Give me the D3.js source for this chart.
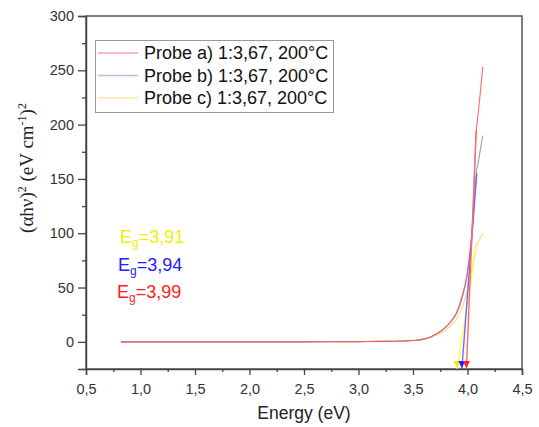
<!DOCTYPE html>
<html lang="en">
<head>
  <meta charset="utf-8">
  <title>Tauc plot</title>
  <script src="https://cdn.jsdelivr.net/npm/d3@7"></script>
  <style>
    body { margin: 0; background: #fff; }
    text { font-family: "Liberation Sans", Arial, sans-serif; }
  </style>
</head>
<body>
<svg id="chart"></svg>
<script>
// data
var energy = [0.82, 1.5, 2.0, 2.5, 3.0, 3.2, 3.4, 3.5, 3.6, 3.65, 3.7, 3.75, 3.8, 3.85, 3.9, 3.95, 4.0, 4.05, 4.08, 4.1, 4.12, 4.14];
var probeA = [0, 0, 0, 0, 0.2, 0.4, 0.8, 1.2, 2.5, 4, 6.5, 9.5, 13.5, 19, 27, 42, 65, 118, 193, 212, 232, 253];
var probeB = [0, 0, 0, 0, 0.2, 0.4, 0.8, 1.2, 2.5, 4, 6.5, 9.5, 13.5, 19, 26, 40, 63, 112, 155, 166, 178, 190];
var probeC = [0, 0, 0, 0, 0.2, 0.4, 0.8, 1.2, 2.3, 3.5, 5.5, 8, 11, 15, 21, 31, 49, 72, 88, 92, 96, 100];
var seriesNames = ["Probe a) 1:3,67, 200°C", "Probe b) 1:3,67, 200°C", "Probe c) 1:3,67, 200°C"];
var egLabels = ["3,99", "3,94", "3,91"];
// tangents: [energy, value] at both ends
var tangentA = [[3.99, -25], [4.08, 195]];
var tangentB = [[3.948, -25], [4.085, 155]];
var tangentC = [[3.905, -25], [4.08, 88]];
var xTicks = [0.5, 1.0, 1.5, 2.0, 2.5, 3.0, 3.5, 4.0, 4.5];
var yTicks = [0, 50, 100, 150, 200, 250, 300];

var w = 539, h = 427;
var margin = {top: 16, right: 17, bottom: 58, left: 86};

var svg = d3.select("#chart").attr("width", w).attr("height", h);

var x = d3.scaleLinear().domain([0.5, 4.5]).range([margin.left, w - margin.right]);
var y = d3.scaleLinear().domain([-25, 300]).range([h - margin.bottom, margin.top]);

var fmt = function(d) { return d3.format(".1f")(d).replace(".", ","); };

// minor ticks
svg.append("g")
  .attr("transform", "translate(0," + (h - margin.bottom) + ")")
  .call(d3.axisBottom(x).tickValues(d3.range(0.75, 4.5, 0.5)).tickSize(3).tickFormat(""))
  .call(function(g) { g.select(".domain").remove(); g.selectAll("line").attr("stroke", "#444").attr("stroke-width", 1.3); });
svg.append("g")
  .attr("transform", "translate(" + margin.left + ",0)")
  .call(d3.axisLeft(y).tickValues(d3.range(-25, 300, 50)).tickSize(4).tickFormat(""))
  .call(function(g) { g.select(".domain").remove(); g.selectAll("line").attr("stroke", "#444").attr("stroke-width", 1.3); });

// box
svg.append("rect")
  .attr("x", margin.left).attr("y", margin.top)
  .attr("width", w - margin.left - margin.right)
  .attr("height", h - margin.top - margin.bottom)
  .attr("fill", "none").attr("stroke", "#555").attr("stroke-width", 1.5);

// major axes
var xAxis = svg.append("g")
  .attr("transform", "translate(0," + (h - margin.bottom) + ")")
  .call(d3.axisBottom(x).tickValues(xTicks).tickSize(6).tickPadding(9).tickFormat(fmt));
var yAxis = svg.append("g")
  .attr("transform", "translate(" + margin.left + ",0)")
  .call(d3.axisLeft(y).tickValues(yTicks).tickSize(8).tickPadding(4));
[xAxis, yAxis].forEach(function(g) {
  g.select(".domain").attr("stroke", "#444").attr("stroke-width", 1.5);
  g.selectAll("line").attr("stroke", "#444").attr("stroke-width", 1.3);
  g.selectAll("text").attr("fill", "#333").style("font-size", "14.5px")
    .style("font-family", "'Liberation Sans', Arial, sans-serif");
});

// axis titles
svg.append("text")
  .attr("x", (margin.left + w - margin.right) / 2).attr("y", 419)
  .attr("text-anchor", "middle").attr("fill", "#222")
  .style("font-size", "17.5px").text("Energy (eV)");

var yt = svg.append("text")
  .attr("transform", "translate(33,168) rotate(-90)")
  .attr("text-anchor", "middle").attr("fill", "#222")
  .style("font-family", "'Liberation Serif', 'Times New Roman', serif")
  .style("font-size", "19px");
yt.append("tspan").text("(αhν)");
yt.append("tspan").attr("dy", -7).style("font-size", "12px").text("2");
yt.append("tspan").attr("dy", 7).text(" (eV cm");
yt.append("tspan").attr("dy", -7).style("font-size", "12px").text("-1");
yt.append("tspan").attr("dy", 7).text(")");
yt.append("tspan").attr("dy", -7).style("font-size", "12px").text("2");

// curves
var curveColors = ["#ff5050", "#7090c0", "#ffd060"];
var line = d3.line()
  .x(function(d) { return x(d[0]); })
  .y(function(d) { return y(d[1]); })
  .curve(d3.curveMonotoneX);
[probeC, probeB, probeA].forEach(function(vals, k) {
  var i = 2 - k;
  svg.append("path")
    .datum(energy.map(function(e, j) { return [e, vals[j]]; }))
    .attr("fill", "none")
    .attr("stroke", curveColors[i])
    .attr("stroke-opacity", 0.85)
    .attr("stroke-width", 1.1)
    .attr("d", line);
});

// tangents with arrows
var tanColors = ["#ff6a6a", "#6a6aff", "#ffff40"];
var tangents = [tangentA, tangentB, tangentC];
var straight = d3.line().x(function(d) { return x(d[0]); }).y(function(d) { return y(d[1]); });
[2, 1, 0].forEach(function(i) {
  var t = tangents[i];
  svg.append("path")
    .attr("d", straight(t))
    .attr("fill", "none").attr("stroke", tanColors[i]).attr("stroke-width", 1.4);
  var px = x(t[0][0]), py = y(t[0][1]);
  svg.append("path")
    .attr("d", "M" + (px - 3.5) + "," + (py - 8) + "L" + (px + 3.5) + "," + (py - 8) + "L" + px + "," + (py - 1) + "Z")
    .attr("fill", i === 0 ? "#ff2020" : i === 1 ? "#2020ff" : "#f0f000");
});

// Eg labels
var egColors = ["#ff2020", "#2020ff", "#f0f000"];
var egPos = [[117, 298], [118, 271], [120, 243]];
[2, 1, 0].forEach(function(i) {
  var t = svg.append("text")
    .attr("x", egPos[i][0]).attr("y", egPos[i][1])
    .attr("fill", egColors[i]).style("font-size", "18px");
  t.append("tspan").text("E");
  t.append("tspan").attr("dy", 4).style("font-size", "12px").text("g");
  t.append("tspan").attr("dy", -4).text("=" + egLabels[i]);
});

// legend
var lg = svg.append("g");
lg.append("rect")
  .attr("x", 95.5).attr("y", 40.5).attr("width", 238).attr("height", 72)
  .attr("fill", "#fff").attr("stroke", "#999").attr("stroke-width", 1);
seriesNames.forEach(function(name, i) {
  var ly = 53 + i * 22.5;
  lg.append("line")
    .attr("x1", 98).attr("x2", 138).attr("y1", ly).attr("y2", ly)
    .attr("stroke", curveColors[i]).attr("stroke-opacity", 0.55).attr("stroke-width", 1.3);
  lg.append("text")
    .attr("x", 144).attr("y", ly + 6)
    .attr("fill", "#111").style("font-size", "18px").text(name);
});
</script>
</body>
</html>
